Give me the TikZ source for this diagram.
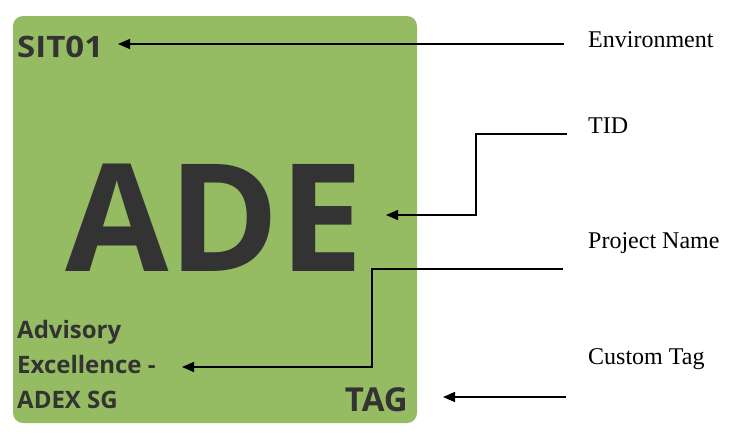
\documentclass[tikz,border=0pt]{standalone}
\usepackage{fontspec}
\setmainfont{Liberation Serif}
\newfontfamily\tilefont{Open Sans}[BoldFont={* Bold}]
\usetikzlibrary{arrows.meta}
\definecolor{tilegreen}{RGB}{149,187,99}
\definecolor{tiletext}{RGB}{51,51,51}
\tikzset{
  tile/.style={fill=tilegreen, draw=none, rounded corners=10pt},
  tiletxt/.style={inner sep=0pt, anchor=base west, text=tiletext, font=\tilefont\bfseries},
  lbl/.style={inner sep=0pt, anchor=base west, font=\fontsize{24}{28}\selectfont},
  pointer/.style={line width=1.4pt, -{Triangle[length=12pt,width=10pt]}},
}
\begin{document}
\begin{tikzpicture}[x=1pt,y=-1pt]
\useasboundingbox (0,0) rectangle (747,442);
\fill[tile] (13,16) rectangle (417,423);
% tile texts
\node[tiletxt, font=\tilefont\bfseries\fontsize{29.5}{34}\selectfont] (sit) at (17,57) {\scalebox{1.12}[1]{SIT01}};
\node[tiletxt, font=\tilefont\bfseries\fontsize{150}{160}\selectfont] (ade) at (65,271) {ADE};
\node[tiletxt, font=\tilefont\bfseries\fontsize{24}{28}\selectfont] (adv1) at (17,338) {Advisory};
\node[tiletxt, font=\tilefont\bfseries\fontsize{24}{28}\selectfont] (adv2) at (17,373) {Excellence -};
\node[tiletxt, font=\tilefont\bfseries\fontsize{24}{28}\selectfont] (adv3) at (17,408) {ADEX SG};
\node[tiletxt, anchor=base east, font=\tilefont\bfseries\fontsize{33}{38}\selectfont] (tag) at (408,411) {TAG};
% labels
\node[lbl] (lenv) at (588,47) {Environment};
\node[lbl] (ltid) at (588,133) {TID};
\node[lbl] (lproj) at (588,248) {Project Name};
\node[lbl] (lcust) at (588,364) {Custom Tag};
% connector ends
\coordinate (envs) at (564,44);
\coordinate (envt) at (118,44);
\coordinate (tids) at (567,134);
\coordinate (tidc) at (476,134);
\coordinate (tidt) at (386,215);
\coordinate (projs) at (563,269);
\coordinate (projc) at (372,269);
\coordinate (projt) at (182,367);
\coordinate (custs) at (566,397);
\coordinate (custt) at (443,397);
% connectors
\draw[pointer] (envs) -- (envt);
\draw[pointer] (tids) -- (tidc) |- (tidt);
\draw[pointer] (projs) -- (projc) |- (projt);
\draw[pointer] (custs) -- (custt);
\end{tikzpicture}
\end{document}
